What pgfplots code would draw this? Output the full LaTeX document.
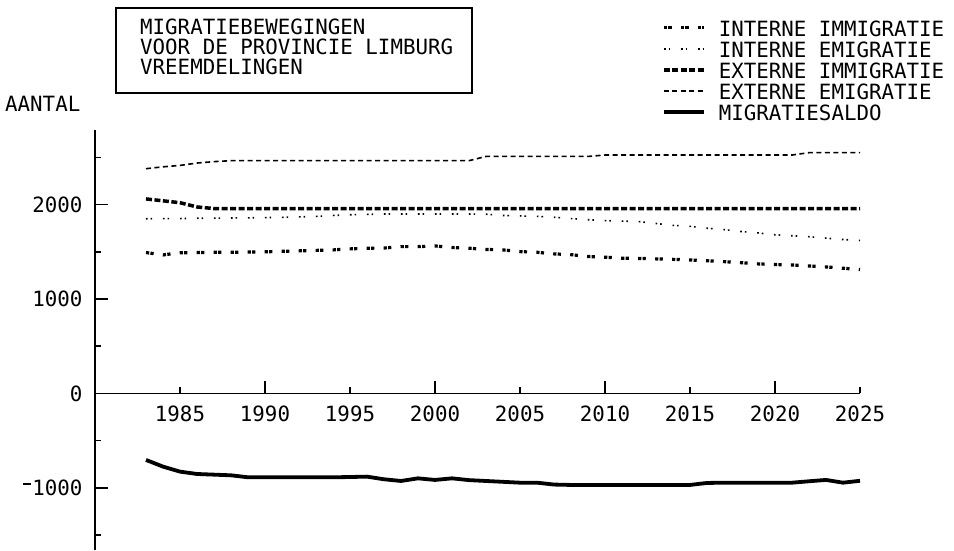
\documentclass[border=0pt]{standalone}
\usepackage{pgfplots}
\pgfplotsset{compat=1.18}
\usepackage{pgfplotstable}
\usepackage{fontspec}
\setmainfont{DejaVu Sans Mono}[FakeStretch=0.99]
\newcommand\pf{\fontsize{21pt}{21pt}\selectfont}

\pgfplotstableread{
year II IE EI EE MS
1983 1492 1850 2060 2380 -704
1984 1467 1852 2040 2400 -775
1985 1490 1852 2020 2415 -828
1986 1492 1855 1975 2440 -853
1987 1495 1856 1958 2455 -860
1988 1495 1858 1958 2465 -867
1989 1498 1860 1958 2465 -888
1990 1500 1862 1958 2465 -888
1991 1505 1865 1958 2465 -888
1992 1510 1870 1958 2465 -888
1993 1515 1875 1958 2465 -888
1994 1520 1885 1958 2465 -888
1995 1531 1892 1958 2465 -885
1996 1538 1896 1958 2465 -881
1997 1540 1900 1958 2465 -909
1998 1555 1900 1958 2465 -927
1999 1555 1900 1958 2465 -899
2000 1562 1900 1958 2465 -916
2001 1545 1900 1958 2465 -899
2002 1538 1900 1958 2465 -918
2003 1525 1898 1958 2510 -927
2004 1520 1885 1958 2510 -936
2005 1502 1880 1958 2510 -945
2006 1495 1875 1958 2510 -945
2007 1478 1866 1958 2510 -965
2008 1470 1852 1958 2510 -969
2009 1450 1840 1958 2510 -969
2010 1443 1830 1958 2525 -969
2011 1432 1825 1958 2525 -969
2012 1430 1820 1958 2525 -969
2013 1425 1800 1958 2525 -969
2014 1420 1780 1958 2525 -969
2015 1414 1770 1958 2525 -969
2016 1405 1750 1958 2525 -948
2017 1396 1735 1958 2525 -945
2018 1385 1715 1958 2525 -945
2019 1372 1700 1958 2525 -945
2020 1365 1680 1958 2525 -945
2021 1361 1670 1958 2525 -945
2022 1350 1660 1958 2550 -930
2023 1340 1645 1958 2550 -916
2024 1326 1630 1958 2550 -945
2025 1312 1620 1958 2550 -925
}\datatable

\begin{document}
\begin{tikzpicture}
\useasboundingbox (0,0) rectangle (954pt,550pt);
\begin{axis}[
  at={(95pt,0pt)}, anchor=south west,
  scale only axis, width=765pt, height=420pt,
  xmin=1980, xmax=2025, ymin=-1658, ymax=2790,
  axis x line=middle, axis y line=left,
  axis line style={line width=1.8pt,-},
  every tick/.style={line width=1.6pt, black},
  tick align=inside,
  major tick length=6pt,
  hide obscured x ticks=false, hide obscured y ticks=false,
  xtick={1985,1990,...,2025},
  xticklabels={1985,1990,1995,2000,2005,2010,2015,2020,2025},
  extra x ticks={1990,2000,2010,2020},
  extra x tick labels={},
  extra x tick style={major tick length=12pt},
  ytick={-1500,-500,500,1500,2500},
  yticklabels={},
  extra y ticks={-1000,0,1000,2000},
  extra y tick labels={\raisebox{11pt}{\rule{8pt}{1.5pt}}\kern1pt 1000,0,1000,2000},
  extra y tick style={major tick length=13pt},
  /pgf/number format/assume math mode=true,
  tick label style={font=\pf},
  xticklabel style={yshift=-9pt},
  yticklabel style={xshift=-9pt},
  legend style={at={(0.741,1.26)}, anchor=north west, draw=none, fill=none,
    font=\pf, row sep=5.5pt, inner sep=0pt,
    nodes={inner sep=0pt, text height=15.5pt, text depth=0pt}},
  legend cell align=left,
  legend image code/.code={\draw[#1] (0pt,1pt) -- (40pt,1pt);},
  legend columns=1,
  clip=false,
]
\addplot[black, line width=3.2pt, dash pattern=on 3.2pt off 1.3pt on 3.2pt off 9.3pt] table[x=year,y=II] {\datatable};
\addlegendentry{\hspace*{13pt}INTERNE IMMIGRATIE}
\addplot[black, line width=1.6pt, dash pattern=on 1.6pt off 3pt on 1.6pt off 10.8pt] table[x=year,y=IE] {\datatable};
\addlegendentry{\hspace*{13pt}INTERNE EMIGRATIE}
\addplot[black, line width=3.5pt, dash pattern=on 6pt off 2.5pt] table[x=year,y=EI] {\datatable};
\addlegendentry{\hspace*{13pt}EXTERNE IMMIGRATIE}
\addplot[black, line width=1.6pt, dash pattern=on 5pt off 3.5pt] table[x=year,y=EE] {\datatable};
\addlegendentry{\hspace*{13pt}EXTERNE EMIGRATIE}
\addplot[black, line width=3.8pt] table[x=year,y=MS] {\datatable};
\addlegendentry{\hspace*{13pt}MIGRATIESALDO}
\end{axis}
\begin{scope}[shift={(0,550pt)}, x=1pt, y=-1pt]
  \draw[line width=1.4pt] (116,8) rectangle (472,93);
  \node[anchor=base west, inner sep=0pt, font=\pf] at (140,35) {MIGRATIEBEWEGINGEN};
  \node[anchor=base west, inner sep=0pt, font=\pf] at (140,55) {VOOR DE PROVINCIE LIMBURG};
  \node[anchor=base west, inner sep=0pt, font=\pf] at (140,75) {VREEMDELINGEN};
  \node[anchor=base west, inner sep=0pt, font=\pf] at (5,112) {AANTAL};
\end{scope}
\end{tikzpicture}
\end{document}
